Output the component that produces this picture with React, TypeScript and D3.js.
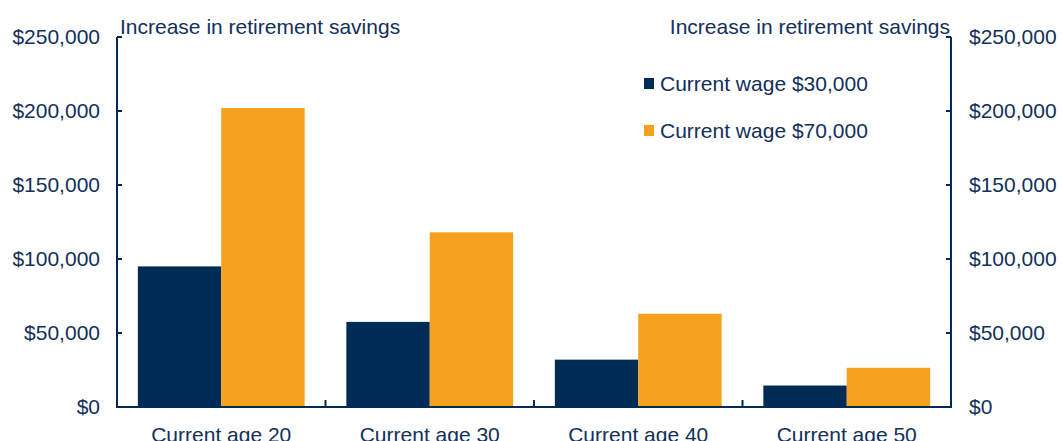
import React from "react";
import * as d3 from "d3";

const categories = ["Current age 20", "Current age 30", "Current age 40", "Current age 50"];
const seriesNames = ["Current wage $30,000", "Current wage $70,000"];
const wage30k = [95000, 57500, 32000, 14500];
const wage70k = [202000, 118000, 63000, 26500];
const yTicks = [0, 50000, 100000, 150000, 200000, 250000];
const axisTitle = "Increase in retirement savings";

const NAVY = "#002B55";
const ORANGE = "#F5A11D";
const TEXT = "#12305A";
const FONT = "'Liberation Sans', Arial, sans-serif";

export default function App() {
  const W = 1062, H = 441;
  const left = 117, right = 951, top = 37, bottom = 407;
  const x0 = d3.scaleBand<string>().domain(categories).range([left, right]).paddingInner(0.2).paddingOuter(0.1);
  const x1 = d3.scaleBand<string>().domain(seriesNames).range([0, x0.bandwidth()]).padding(0);
  const y = d3.scaleLinear().domain([0, 250000]).range([bottom, top]);
  const fmt = (v: number) => "$" + d3.format(",")(v);
  const series = [wage30k, wage70k];
  const colors = [NAVY, ORANGE];
  const step = x0.step();
  const boundaries = categories.map((c) => (x0(c) as number) - step * x0.paddingOuter()).concat([right]);

  return (
    <svg width={W} height={H} style={{ position: "absolute", left: 0, top: 0 }} fontFamily={FONT}>
      <rect x={0} y={0} width={W} height={H} fill="#fff" />
      {categories.map((c, i) =>
        series.map((s, j) => (
          <rect
            key={c + j}
            x={(x0(c) as number) + (x1(seriesNames[j]) as number)}
            y={y(s[i])}
            width={x1.bandwidth()}
            height={y(0) - y(s[i])}
            fill={colors[j]}
          />
        ))
      )}
      {/* axes */}
      <line x1={left} x2={left} y1={top} y2={bottom} stroke={NAVY} strokeWidth={2} />
      <line x1={right} x2={right} y1={top} y2={bottom} stroke={NAVY} strokeWidth={2} />
      <line x1={left - 1} x2={right + 1} y1={bottom} y2={bottom} stroke={NAVY} strokeWidth={2} />
      {yTicks.map((t) => (
        <g key={t}>
          <line x1={left} x2={left + 5} y1={y(t)} y2={y(t)} stroke={NAVY} strokeWidth={2} />
          <line x1={right - 5} x2={right} y1={y(t)} y2={y(t)} stroke={NAVY} strokeWidth={2} />
          <text x={100} y={y(t)} dy="0.35em" textAnchor="end" fontSize={21} fill={TEXT}>
            {fmt(t)}
          </text>
          <text x={969} y={y(t)} dy="0.35em" textAnchor="start" fontSize={21} fill={TEXT}>
            {fmt(t)}
          </text>
        </g>
      ))}
      {boundaries.slice(1, -1).map((b, i) => (
        <line key={i} x1={b} x2={b} y1={bottom} y2={bottom - 7} stroke={NAVY} strokeWidth={2} />
      ))}
      {categories.map((c) => (
        <text key={c} x={(x0(c) as number) + x0.bandwidth() / 2} y={442} textAnchor="middle" fontSize={21} fill={TEXT}>
          {c}
        </text>
      ))}
      <text x={120} y={34} fontSize={21} fill={TEXT}>{axisTitle}</text>
      <text x={950} y={34} fontSize={21} textAnchor="end" fill={TEXT}>{axisTitle}</text>
      {/* legend */}
      {seriesNames.map((n, j) => (
        <g key={n} transform={`translate(644, ${78 + j * 47})`}>
          <rect x={0} y={0} width={10} height={11} fill={colors[j]} />
          <text x={16} y={5.5} dy="0.35em" fontSize={21} fill={TEXT}>{n}</text>
        </g>
      ))}
    </svg>
  );
}
